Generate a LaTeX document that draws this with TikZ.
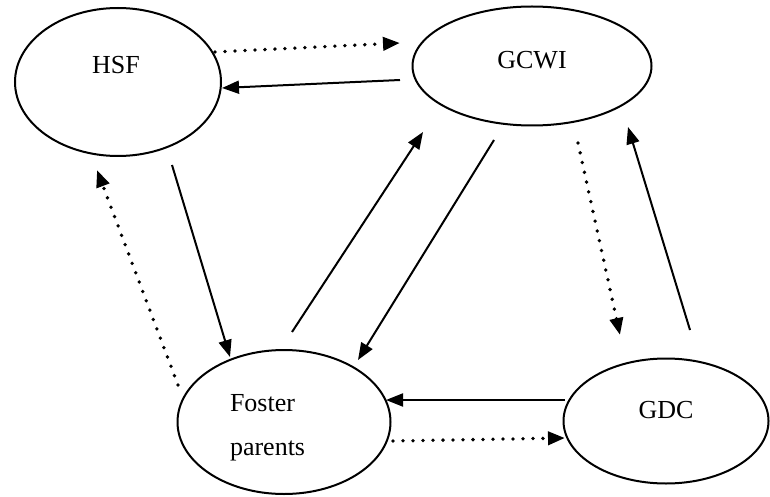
\documentclass[tikz,border=0pt]{standalone}
\usepackage{fontspec}
\setmainfont{Liberation Serif}
\usepackage{tikz}
\usetikzlibrary{
  arrows.meta,
  calc,
  shapes.geometric
}

\begin{document}
\begin{tikzpicture}[
  x=1pt, y=-1pt,
  >={Triangle[length=17pt, width=13pt]},
  line width=2pt
]

\tikzset{
  org/.style n args={2}{
    draw,
    ellipse,
    fill=white,
    inner sep=0pt,
    minimum width=#1,
    minimum height=#2
  },
  orgname/.style={
    align=left,
    inner sep=0pt,
    font=\fontsize{26}{44}\selectfont
  },
  dots/.style={
    line width=3.8pt,
    line cap=round,
    dash pattern=on 0pt off 10pt
  }
}

\useasboundingbox (0,0) rectangle (770,497);

% NODES ----------------------------------------------------------

% Nodes organisations (ellipses)
\node[org={206}{148}] (hsf)    at (118, 82)  {};
\node[org={239}{119}] (gcwi)   at (532, 66)  {};
\node[org={213}{144}] (foster) at (284, 422) {};
\node[org={205}{125}] (gdc)    at (666, 421) {};

% Nodes names
\node[orgname] (hsfname)    at ($(hsf)+(-2,-17)$)   {HSF};
\node[orgname] (gcwiname)   at ($(gcwi)+(0,-6)$)    {GCWI};
\node[orgname, anchor=west] (fostername) at ($(foster)+(-55,6)$) {Foster\\parents};
\node[orgname] (gdcname)    at ($(gdc)+(0,-11)$)    {GDC};

% DRAWS ---------------------------------------------------------

% Draws HSF <-> GCWI
\draw[->, dots] ($(hsf)+(97,-30)$) -- ($(gcwi)+(-132,-23)$);
\draw[->] ($(gcwi)+(-132,14)$) -- ($(hsf)+(104,6)$);

% Draws HSF <-> Foster parents
\draw[->] ($(hsf)+(54,83)$) -- ($(foster)+(-54,-65)$);
\draw[->, dots] ($(foster)+(-106,-37)$) -- ($(hsf)+(-21,88)$);

% Draws GCWI <-> Foster parents
\draw[->] ($(foster)+(8,-90)$) -- ($(gcwi)+(-109,66)$);
\draw[->] ($(gcwi)+(-38,74)$) -- ($(foster)+(74,-62)$);

% Draws GCWI <-> GDC
\draw[->, dots] ($(gcwi)+(46,77)$) -- ($(gdc)+(-46,-86)$);
\draw[->] ($(gdc)+(24,-91)$) -- ($(gcwi)+(96,61)$);

% Draws GDC <-> Foster parents
\draw[->] ($(gdc)+(-101,-21)$) -- ($(foster)+(102,-22)$);
\draw[->, dots] ($(foster)+(109,19)$) -- ($(gdc)+(-101,17)$);

\end{tikzpicture}
\end{document}
